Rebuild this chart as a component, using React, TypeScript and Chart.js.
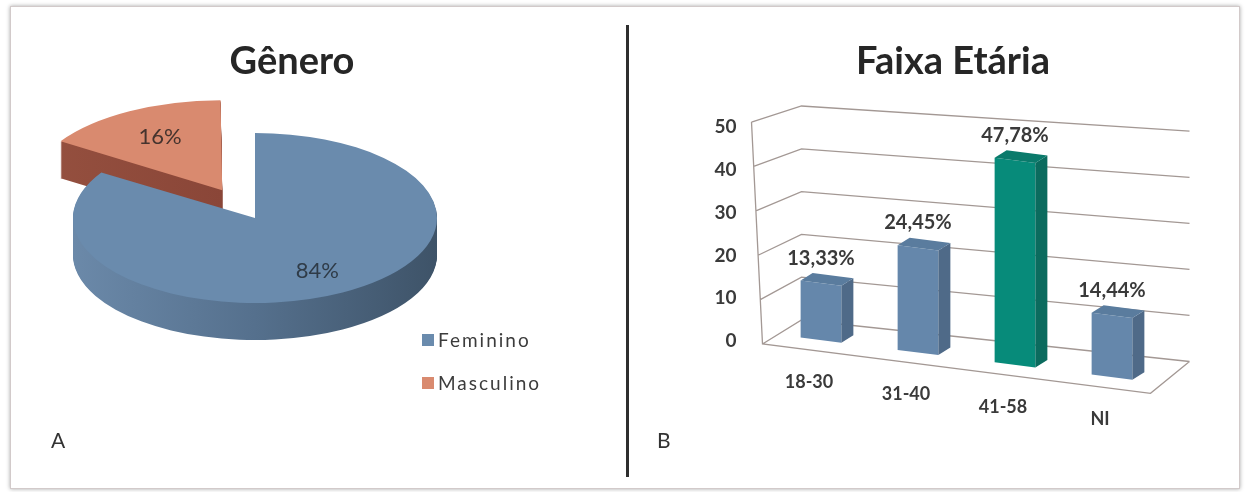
import React, { useEffect, useRef } from 'react';
import { Chart, registerables } from 'chart.js';

Chart.register(...registerables);

// ---------- data ----------
const genderLabels = ['Feminino', 'Masculino'];
const genderValues = [84, 16];
const genderTopColors = ['#6a8bad', '#d98a6f'];
const genderSideColors = [
  ['#6b89a9', '#55708d', '#3e5368'],
  ['#95503f', '#8a4638', '#7a3c31'],
];

const ageLabels = ['18-30', '31-40', '41-58', 'NI'];
const ageValues = [13.33, 24.45, 47.78, 14.44];
const ageFrontColors = ['#6587ab', '#6587ab', '#078b7a', '#6587ab'];
const ageSideColors = ['#4f6a88', '#4f6a88', '#0b6b5e', '#4f6a88'];
const ageTopColors = ['#5a7c9e', '#5a7c9e', '#0a7a6b', '#5a7c9e'];
const yMin = 0;
const yMax = 50;
const yStep = 10;

const FONT = "Lato, 'Open Sans', sans-serif";
const TEXT = '#3a3a3a';
const fmtPct = (v: number, d: number) => v.toFixed(d).replace('.', ',') + '%';

// an invisible right-hand axis that only reserves room beside the plot
const spacerAxis = (w: number) => ({
  type: 'linear',
  position: 'right',
  display: true,
  ticks: { display: false },
  grid: { display: false, drawTicks: false },
  border: { display: false },
  afterFit: (s: any) => {
    s.width = w;
  },
});

// ---------- pie 3D plugin ----------
const PIE_RADIUS = 182;
const PIE_SQUASH = 0.467;
const PIE_DEPTH = 37;
const PIE_LABEL_FRAC = 0.71;

const fin = (v: any, d: number) => (Number.isFinite(v) ? v : d);

const pie3d = {
  id: 'pie3d',
  beforeDatasetsDraw(chart: any) {
    const ctx = chart.ctx as CanvasRenderingContext2D;
    const meta = chart.getDatasetMeta(0);
    const arcs = meta.data as any[];
    if (!arcs.length) return false;
    const ca = chart.chartArea;
    const p0 = arcs[0].getProps(['x', 'y', 'outerRadius'], true);
    const cx = fin(p0.x, (ca.left + ca.right) / 2);
    const cy = fin(p0.y, (ca.top + ca.bottom) / 2);
    const R = fin(p0.outerRadius, PIE_RADIUS);
    const squash = () => {
      ctx.translate(cx, cy);
      ctx.scale(1, PIE_SQUASH);
      ctx.translate(-cx, -cy);
    };
    const mids = arcs.map((a) => {
      const p = a.getProps(['startAngle', 'endAngle'], true);
      return (fin(p.startAngle, 0) + fin(p.endAngle, 0)) / 2;
    });
    const order = arcs.map((a, i) => i).sort((a, b) => Math.sin(mids[a]) - Math.sin(mids[b]));
    order.forEach((i) => {
      const arc = arcs[i];
      const orig = arc.options;
      const g = ctx.createLinearGradient(cx - R, 0, cx + R, 0);
      const sc = genderSideColors[i];
      g.addColorStop(0, sc[0]);
      g.addColorStop(0.5, sc[1]);
      g.addColorStop(1, sc[2]);
      arc.options = { ...orig, backgroundColor: g };
      for (let d = PIE_DEPTH; d >= 1; d--) {
        ctx.save();
        ctx.translate(0, d);
        squash();
        arc.draw(ctx);
        ctx.restore();
      }
      arc.options = orig;
      ctx.save();
      squash();
      arc.draw(ctx);
      ctx.restore();
    });
    ctx.save();
    ctx.font = `22px ${FONT}`;
    ctx.textAlign = 'center';
    ctx.textBaseline = 'middle';
    arcs.forEach((arc, i) => {
      const mid = mids[i];
      const off = fin(arc.options && arc.options.offset, 0) / 4;
      const r = off + R * PIE_LABEL_FRAC;
      const x = cx + Math.cos(mid) * r;
      const y = cy + Math.sin(mid) * r * PIE_SQUASH;
      ctx.fillStyle = i === 0 ? '#2f3b47' : '#45332e';
      ctx.fillText(fmtPct(chart.data.datasets[0].data[i], 0), x, y);
    });
    ctx.restore();
    return false;
  },
};

// ---------- bar 3D plugin ----------
const S = 0.127;
const BAR_DX = 12;
const BAR_DY = 9;
const BACK_DX = 29;
const BACK_DY = -14;
const S_BACK0 = 0.107;
const S_BACK1 = 0.065;
const FRONT_DX0 = -10;
const FRONT_DX1 = -21;
const FRONT_DY = 10;
const FRONT_K = 1.037;
const GRID = '#a39894';

const bar3d = {
  id: 'bar3d',
  beforeDatasetsDraw(chart: any) {
    const ctx = chart.ctx as CanvasRenderingContext2D;
    const { left: L, right: R } = chart.chartArea;
    const y = chart.scales.y;
    const Y0 = y.getPixelForValue(y.min);
    const front = (v: number) => {
      const t = (v - y.min) / (y.max - y.min);
      const yv = y.getPixelForValue(v);
      return [L + FRONT_DX0 + (FRONT_DX1 - FRONT_DX0) * t, Y0 + FRONT_DY - (Y0 - yv) * FRONT_K];
    };
    ctx.save();
    ctx.strokeStyle = GRID;
    ctx.lineWidth = 1.3;
    ctx.beginPath();
    y.ticks.forEach((tk: any) => {
      const v = tk.value;
      const t = (v - y.min) / (y.max - y.min);
      const yv = y.getPixelForValue(v);
      const [fx, fy] = front(v);
      const bx = L + BACK_DX;
      const by = yv + BACK_DY;
      const sv = S_BACK0 + (S_BACK1 - S_BACK0) * t;
      ctx.moveTo(fx, fy);
      ctx.lineTo(bx, by);
      ctx.lineTo(R + BACK_DX, by + sv * (R - L));
    });
    const [f0x, f0y] = front(y.min);
    const [f1x, f1y] = front(y.max);
    ctx.moveTo(f1x, f1y);
    ctx.lineTo(f0x, f0y);
    const frx = R + FRONT_DX0;
    const fry = Y0 + FRONT_DY + S * (R - L);
    ctx.lineTo(frx, fry);
    ctx.lineTo(R + BACK_DX, Y0 + BACK_DY + S_BACK0 * (R - L));
    ctx.stroke();
    ctx.restore();

    ctx.save();
    ctx.transform(1, S, 0, 1, 0, -S * L);
  },
  afterDatasetsDraw(chart: any) {
    const ctx = chart.ctx as CanvasRenderingContext2D;
    const { left: L } = chart.chartArea;
    const meta = chart.getDatasetMeta(0);
    const bars = meta.data as any[];
    bars.forEach((bar, i) => {
      const { x, y, base, width } = bar.getProps(['x', 'y', 'base', 'width'], true);
      const xl = x - width / 2;
      const xr = x + width / 2;
      ctx.fillStyle = ageSideColors[i];
      ctx.beginPath();
      ctx.moveTo(xr, y);
      ctx.lineTo(xr + BAR_DX, y - BAR_DY);
      ctx.lineTo(xr + BAR_DX, base - BAR_DY);
      ctx.lineTo(xr, base);
      ctx.closePath();
      ctx.fill();
      ctx.fillStyle = ageTopColors[i];
      ctx.beginPath();
      ctx.moveTo(xl, y);
      ctx.lineTo(xl + BAR_DX, y - BAR_DY);
      ctx.lineTo(xr + BAR_DX, y - BAR_DY);
      ctx.lineTo(xr, y);
      ctx.closePath();
      ctx.fill();
    });
    ctx.restore();

    ctx.save();
    ctx.textAlign = 'center';
    ctx.textBaseline = 'middle';
    ctx.fillStyle = TEXT;
    bars.forEach((bar, i) => {
      const { x, y, base } = bar.getProps(['x', 'y', 'base'], true);
      const sk = S * (x - L);
      ctx.font = `bold 20px ${FONT}`;
      ctx.fillText(fmtPct(chart.data.datasets[0].data[i], 2), x, y + sk - 25);
      ctx.font = `bold 18px ${FONT}`;
      ctx.fillText(chart.data.labels[i], x - 12, base + sk + 42);
    });
    ctx.restore();
  },
};

export default function App() {
  const pieRef = useRef<HTMLCanvasElement>(null);
  const barRef = useRef<HTMLCanvasElement>(null);

  useEffect(() => {
    Chart.defaults.font.family = FONT;
    const pie = new Chart(pieRef.current!, {
      type: 'pie',
      data: {
        labels: genderLabels,
        datasets: [
          {
            data: genderValues,
            backgroundColor: genderTopColors,
            borderWidth: 0,
            offset: [0, 272],
            clip: false,
            cutout: '0%',
            radius: PIE_RADIUS,
          } as any,
        ],
      },
      options: {
        responsive: false,
        animation: false,
        radius: PIE_RADIUS,
        cutout: '0%',
        rotation: 0,
        layout: { padding: { left: 0, right: 0, top: 0, bottom: 128.6 } },
        scales: { spacer: spacerAxis(74) },
        plugins: {
          legend: { display: false },
          tooltip: { enabled: false },
          title: {
            display: true,
            text: 'Gênero',
            color: '#262626',
            font: { size: 38, weight: 'bold', family: FONT },
            padding: { top: 19, bottom: 0 },
          },
        },
      } as any,
      plugins: [pie3d],
    });

    const bar = new Chart(barRef.current!, {
      type: 'bar',
      data: {
        labels: ageLabels,
        datasets: [
          {
            data: ageValues,
            backgroundColor: ageFrontColors,
            borderWidth: 0,
            barPercentage: 0.42,
            categoryPercentage: 1,
            clip: false,
          } as any,
        ],
      },
      options: {
        responsive: false,
        animation: false,
        layout: { padding: { left: 0, right: 0, top: 0, bottom: 146 } },
        scales: {
          x: { display: false },
          y: {
            min: yMin,
            max: yMax,
            ticks: {
              stepSize: yStep,
              padding: 36,
              labelOffset: 7,
              color: TEXT,
              font: { size: 19, weight: 'bold', family: FONT },
            },
            grid: { display: false, drawTicks: false },
            border: { display: false },
            afterFit: (s: any) => {
              s.width = 107.5;
            },
          },
          spacer: spacerAxis(80.5),
        },
        plugins: {
          legend: { display: false },
          tooltip: { enabled: false },
          title: {
            display: true,
            text: 'Faixa Etária',
            color: '#262626',
            font: { size: 38, weight: 'bold', family: FONT },
            padding: { top: 19, bottom: 35.4 },
          },
        },
      } as any,
      plugins: [bar3d],
    });

    return () => {
      pie.destroy();
      bar.destroy();
    };
  }, []);

  const legendItem = (i: number, top: number) => (
    <div key={i} style={{ position: 'absolute', left: 422, top, height: 24, display: 'flex', alignItems: 'center' }}>
      <div style={{ width: 12, height: 12, background: genderTopColors[i], marginRight: 4 }} />
      <span style={{ font: `19px ${FONT}`, color: '#3c3c3c', letterSpacing: '2px', lineHeight: '24px' }}>
        {genderLabels[i]}
      </span>
    </div>
  );

  return (
    <div style={{ position: 'absolute', left: 0, top: 0, width: 1251, height: 492, background: '#fff', overflow: 'hidden' }}>
      <div
        style={{
          position: 'absolute',
          left: 10,
          top: 6,
          width: 1228,
          height: 481,
          border: '1px solid #d2caca',
          boxShadow: '0 0 4px rgba(0,0,0,0.35)',
          background: '#fff',
        }}
      />
      <div style={{ position: 'absolute', left: 626, top: 25, width: 3, height: 452, background: '#2e2e2e' }} />
      <canvas ref={pieRef} width={544} height={460} style={{ position: 'absolute', left: 20, top: 20 }} />
      <canvas ref={barRef} width={576} height={460} style={{ position: 'absolute', left: 665, top: 20 }} />
      {legendItem(0, 328)}
      {legendItem(1, 371)}
      <div style={{ position: 'absolute', left: 51, top: 427, font: `21px ${FONT}`, color: '#333', lineHeight: '26px' }}>A</div>
      <div style={{ position: 'absolute', left: 657, top: 427, font: `21px ${FONT}`, color: '#333', lineHeight: '26px' }}>B</div>
    </div>
  );
}
